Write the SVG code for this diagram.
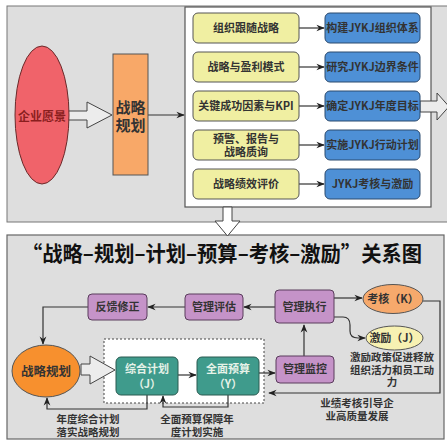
<svg xmlns="http://www.w3.org/2000/svg" width="447" height="441" viewBox="0 0 447 441">
<defs>
<style>
.t{font-family:"Noto Sans CJK SC","Noto Sans",sans-serif;font-weight:bold;fill:#333;text-anchor:middle}
.s11{font-size:11px}
.lb{font-size:10.5px}
.yb{fill:#f0efa2;stroke:#555;stroke-width:1}
.bb{fill:#4e90d6;stroke:#2b4a6e;stroke-width:1}
.pb{fill:#c593c8;stroke:#5a3c5c;stroke-width:1}
.gb{fill:#3f9b8c;stroke:#2a5a50;stroke-width:1}
.ln{fill:none;stroke:#333;stroke-width:1.2}
.blk{fill:#ececec;stroke:#444;stroke-width:1}
</style>
<marker id="ah" viewBox="0 0 10 10" refX="9" refY="5" markerWidth="7" markerHeight="7" orient="auto-start-reverse">
<path d="M0,1 L10,5 L0,9 L3,5 Z" fill="#222"/>
</marker>
</defs>

<!-- panels -->
<rect x="7" y="6" width="445" height="216" fill="#dedede" stroke="#777" stroke-width="1"/>
<rect x="185" y="7" width="246" height="200" fill="#fff" stroke="#555" stroke-width="1.2"/>
<rect x="7" y="235" width="437" height="204" fill="#dedede" stroke="#666" stroke-width="1.2"/>
<rect x="104" y="339" width="160" height="64" fill="#fff" stroke="#444" stroke-width="1" stroke-dasharray="2,2"/>

<g id="connectors">
<polygon class="blk" points="68,111 87,111 87,102 112,115 87,128 87,120 68,120"/>
<line class="ln" x1="148" y1="115" x2="184" y2="115" marker-end="url(#ah)"/>
<line class="ln" x1="299" y1="28" x2="324" y2="28" marker-end="url(#ah)"/>
<line class="ln" x1="299" y1="67" x2="324" y2="67" marker-end="url(#ah)"/>
<line class="ln" x1="299" y1="106" x2="324" y2="106" marker-end="url(#ah)"/>
<line class="ln" x1="299" y1="145" x2="324" y2="145" marker-end="url(#ah)"/>
<line class="ln" x1="299" y1="184" x2="324" y2="184" marker-end="url(#ah)"/>
<polygon class="blk" points="420,101 437,101 437,93 449,106.5 437,120 437,112 420,112"/>
<polygon fill="#fff" stroke="#444" stroke-width="1" points="223,207 232,207 232,221 240,221 227.5,236 215,221 223,221"/>
<polygon class="blk" points="81,364 90,364 90,356 115,370 90,384 90,375 81,375"/>
<line class="ln" x1="178" y1="375" x2="196" y2="375" marker-end="url(#ah)"/>
<line class="ln" x1="259" y1="373" x2="275" y2="373" marker-end="url(#ah)"/>
<line class="ln" x1="304" y1="356" x2="304" y2="325" marker-end="url(#ah)"/>
<line class="ln" x1="275" y1="307" x2="244" y2="307" marker-end="url(#ah)"/>
<line class="ln" x1="185" y1="307" x2="148" y2="307" marker-end="url(#ah)"/>
<polyline class="ln" points="88,307 43,307 43,344" marker-end="url(#ah)"/>
<line class="ln" x1="334" y1="298" x2="362" y2="298" marker-end="url(#ah)"/>
<path class="ln" d="M334,317 L343,317 Q350,317 350,325 L350,331 Q350,338 358,338 L365,338" marker-end="url(#ah)"/>
<polyline class="ln" points="423,301 440,301 440,393 269,393" marker-end="url(#ah)"/>
<polyline class="ln" points="147,395 147,409 47,409 47,398" marker-end="url(#ah)"/>
<polyline class="ln" points="228,395 228,407 163,407 163,396" marker-end="url(#ah)"/>
</g>

<g id="vision">
<ellipse cx="42" cy="115" rx="27" ry="69" fill="#f0636a" stroke="#6a2a2a" stroke-width="1"/>
<text class="t" x="42" y="121" font-size="12" style="fill:#8a1e1e">企业愿景</text>
</g>
<g id="plan-top">
<rect x="113" y="54" width="35" height="121" fill="#f8a868" stroke="#555" stroke-width="1"/>
<text class="t" x="130.5" y="113" font-size="15">战略<tspan x="130.5" dy="18">规划</tspan></text>
</g>
<g id="y1"><rect class="yb" x="193" y="13" width="106" height="30" rx="5"/><text class="t s11" x="246" y="32">组织跟随战略</text></g>
<g id="y2"><rect class="yb" x="193" y="52" width="106" height="30" rx="5"/><text class="t s11" x="246" y="71">战略与盈利模式</text></g>
<g id="y3"><rect class="yb" x="193" y="91" width="106" height="30" rx="5"/><text class="t s11" x="246" y="110">关键成功因素与KPI</text></g>
<g id="y4"><rect class="yb" x="193" y="130" width="106" height="30" rx="5"/><text class="t s11" x="246" y="143">预警、报告与<tspan x="246" dy="13">战略质询</tspan></text></g>
<g id="y5"><rect class="yb" x="193" y="169" width="106" height="30" rx="5"/><text class="t s11" x="246" y="188">战略绩效评价</text></g>
<g id="b1"><rect class="bb" x="325" y="13" width="95" height="30" rx="5"/><text class="t s11" x="372.5" y="32">构建JYKJ组织体系</text></g>
<g id="b2"><rect class="bb" x="325" y="52" width="95" height="30" rx="5"/><text class="t s11" x="372.5" y="71">研究JYKJ边界条件</text></g>
<g id="b3"><rect class="bb" x="325" y="91" width="95" height="30" rx="5"/><text class="t s11" x="372.5" y="110">确定JYKJ年度目标</text></g>
<g id="b4"><rect class="bb" x="325" y="130" width="95" height="30" rx="5"/><text class="t s11" x="372.5" y="149">实施JYKJ行动计划</text></g>
<g id="b5"><rect class="bb" x="325" y="169" width="95" height="30" rx="5"/><text class="t s11" x="372.5" y="188">JYKJ考核与激励</text></g>

<text class="t" x="22" y="261" font-size="21" textLength="400" lengthAdjust="spacingAndGlyphs" style="text-anchor:start;fill:#111">“战略–规划–计划–预算–考核–激励”关系图</text>

<g id="feedback"><rect class="pb" x="88" y="294" width="59" height="26" rx="4"/><text class="t s11" x="117.5" y="311">反馈修正</text></g>
<g id="evaluate"><rect class="pb" x="185" y="294" width="58" height="26" rx="4"/><text class="t s11" x="214" y="311">管理评估</text></g>
<g id="execute"><rect class="pb" x="275" y="290" width="59" height="33" rx="4"/><text class="t s11" x="304.5" y="311">管理执行</text></g>
<g id="monitor"><rect class="pb" x="276" y="356" width="58" height="27" rx="4"/><text class="t s11" x="305" y="373">管理监控</text></g>
<g id="assess"><ellipse cx="393" cy="299" rx="30" ry="14.5" fill="#f6a96c" stroke="#555" stroke-width="1"/><text class="t s11" x="393" y="303">考核（K）</text></g>
<g id="incentive"><ellipse cx="394.5" cy="338" rx="28.5" ry="12" fill="#f7f1b2" stroke="#555" stroke-width="1"/><text class="t s11" x="394.5" y="342">激励（J）</text></g>
<text class="t lb" x="392" y="361">激励政策促进释放<tspan x="392" dy="12.5">组织活力和员工动</tspan><tspan x="392" dy="12.5">力</tspan></text>
<g id="strategy"><ellipse cx="46" cy="371" rx="34" ry="26" fill="#f7902e" stroke="#555" stroke-width="1"/><text class="t" font-size="12.5" x="46" y="376">战略规划</text></g>
<g id="plan"><rect class="gb" x="116" y="357" width="62" height="38" rx="5"/><text class="t s11" x="147" y="373" style="fill:#e6f2e8">综合计划<tspan x="147" dy="15">（J）</tspan></text></g>
<g id="budget"><rect class="gb" x="197" y="357" width="62" height="38" rx="5"/><text class="t s11" x="228" y="373" style="fill:#e6f2e8">全面预算<tspan x="228" dy="15">（Y）</tspan></text></g>

<text class="t lb" x="357" y="407">业绩考核引导企<tspan x="357" dy="13">业高质量发展</tspan></text>
<text class="t lb" x="88" y="423">年度综合计划<tspan x="88" dy="13">落实战略规划</tspan></text>
<text class="t lb" x="197" y="423">全面预算保障年<tspan x="197" dy="13">度计划实施</tspan></text>
</svg>
